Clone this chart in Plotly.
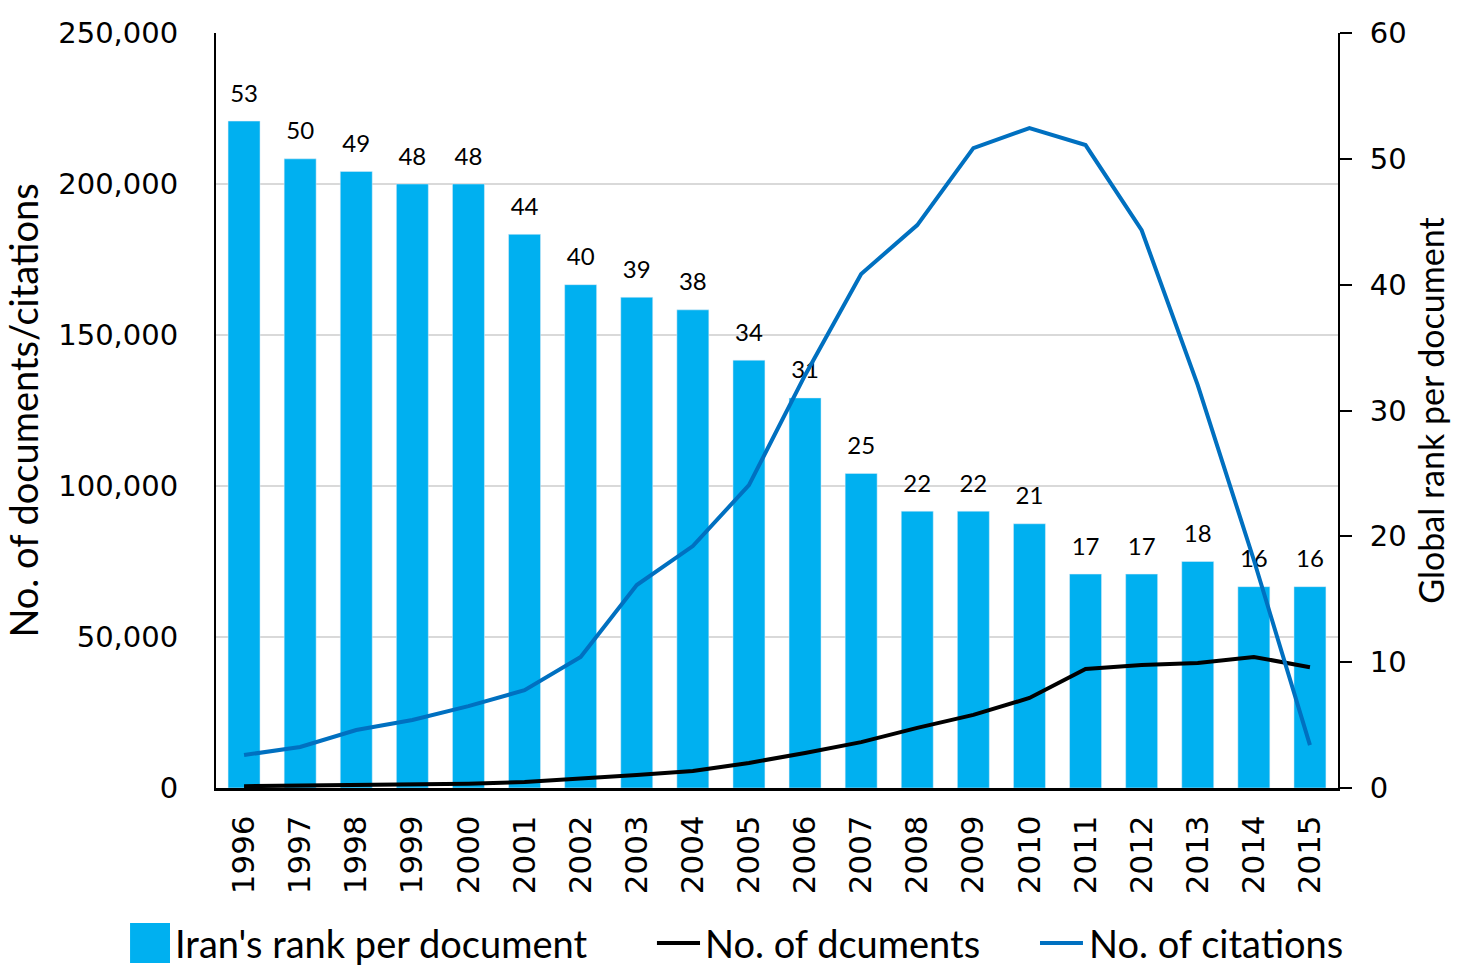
import plotly.graph_objects as go

years = [str(y) for y in range(1996, 2016)]
rank = [53, 50, 49, 48, 48, 44, 40, 39, 38, 34, 31, 25, 22, 22, 21, 17, 17, 18, 16, 16]
documents = [600, 800, 900, 1100, 1400, 2000, 3000, 4300, 5600, 8300, 11600, 15200,
             19900, 24200, 29800, 39400, 40700, 41400, 43400, 40000]
citations = [10900, 13600, 19200, 22500, 27100, 32400, 43400, 67200, 80100, 100300,
             136700, 170200, 186400, 211900, 218500, 212900, 184700, 133400, 75500, 14200]
legend_names = ["Iran's rank per document", "No. of dcuments", "No. of citations"]

BAR_C = "#00B0F0"
CIT_C = "#0070C0"
TICKFONT = dict(family="DejaVu Sans, Verdana, sans-serif", size=29, color="black")
TXT = "Lato, Open Sans, sans-serif"

fig = go.Figure()
fig.add_trace(go.Bar(
    x=years, y=rank, name=legend_names[0], marker_color=BAR_C,
    yaxis="y", showlegend=False))
# value labels above bars (invisible marker pushes the text up a little)
fig.add_trace(go.Scatter(
    x=years, y=rank, mode="markers+text", text=[str(v) for v in rank],
    textposition="top center", cliponaxis=False, hoverinfo="skip",
    marker=dict(size=20, color="rgba(0,0,0,0)"),
    textfont=dict(family=TXT, size=24, color="black"),
    yaxis="y", showlegend=False))
fig.add_trace(go.Scatter(
    x=years, y=documents, name=legend_names[1], mode="lines",
    line=dict(color="black", width=4), yaxis="y2", showlegend=False))
fig.add_trace(go.Scatter(
    x=years, y=citations, name=legend_names[2], mode="lines",
    line=dict(color=CIT_C, width=4), yaxis="y2", showlegend=False))

# manual legend (paper coordinates relative to plot area)
ly = -0.2053
fig.add_shape(type="rect", xref="paper", yref="paper", x0=-0.0766, x1=-0.041,
              y0=-0.2318, y1=-0.1788, fillcolor=BAR_C, line=dict(width=0))
fig.add_shape(type="line", xref="paper", yref="paper", x0=0.393, x1=0.4314,
              y0=ly, y1=ly, line=dict(color="black", width=4))
fig.add_shape(type="line", xref="paper", yref="paper", x0=0.7344, x1=0.7727,
              y0=ly, y1=ly, line=dict(color=CIT_C, width=4))
for xpos, name in zip([-0.0383, 0.434, 0.7763], legend_names):
    fig.add_annotation(xref="paper", yref="paper", x=xpos, y=ly, text=name,
                       showarrow=False, xanchor="left", yanchor="middle",
                       font=dict(family=TXT, size=38, color="black"))

fig.update_layout(
    width=1473, height=973,
    margin=dict(l=216, r=135, t=33, b=185),
    plot_bgcolor="white", paper_bgcolor="white",
    bargap=0.43,
    showlegend=False,
    xaxis=dict(type="category", range=[-0.5, len(years) - 0.5], tickangle=-90,
               tickfont=dict(TICKFONT, size=31),
               showline=True, linecolor="black", linewidth=3, ticks="", showgrid=False,
               automargin=False, ticklabelstandoff=12),
    yaxis=dict(side="right", range=[0, 60], dtick=10, tickfont=TICKFONT,
               showline=True, linecolor="black", linewidth=2, ticks="outside",
               ticklen=12, tickwidth=2, tickcolor="black",
               showgrid=False, zeroline=False, automargin=False, ticklabelstandoff=12,
               title=dict(text="Global rank per document",
                          font=dict(family=TXT, size=34, color="black"), standoff=14)),
    yaxis2=dict(side="left", overlaying="y", range=[0, 250000], dtick=50000,
                tickformat=",", tickfont=TICKFONT, showline=True, linecolor="black",
                linewidth=2, ticks="", showgrid=True, gridcolor="#D9D9D9", gridwidth=2,
                zeroline=False, automargin=False, ticklabelstandoff=30,
                title=dict(text="No. of documents/citations",
                           font=dict(family=TXT, size=38, color="black"), standoff=12)),
)

fig.write_html("out.html")
